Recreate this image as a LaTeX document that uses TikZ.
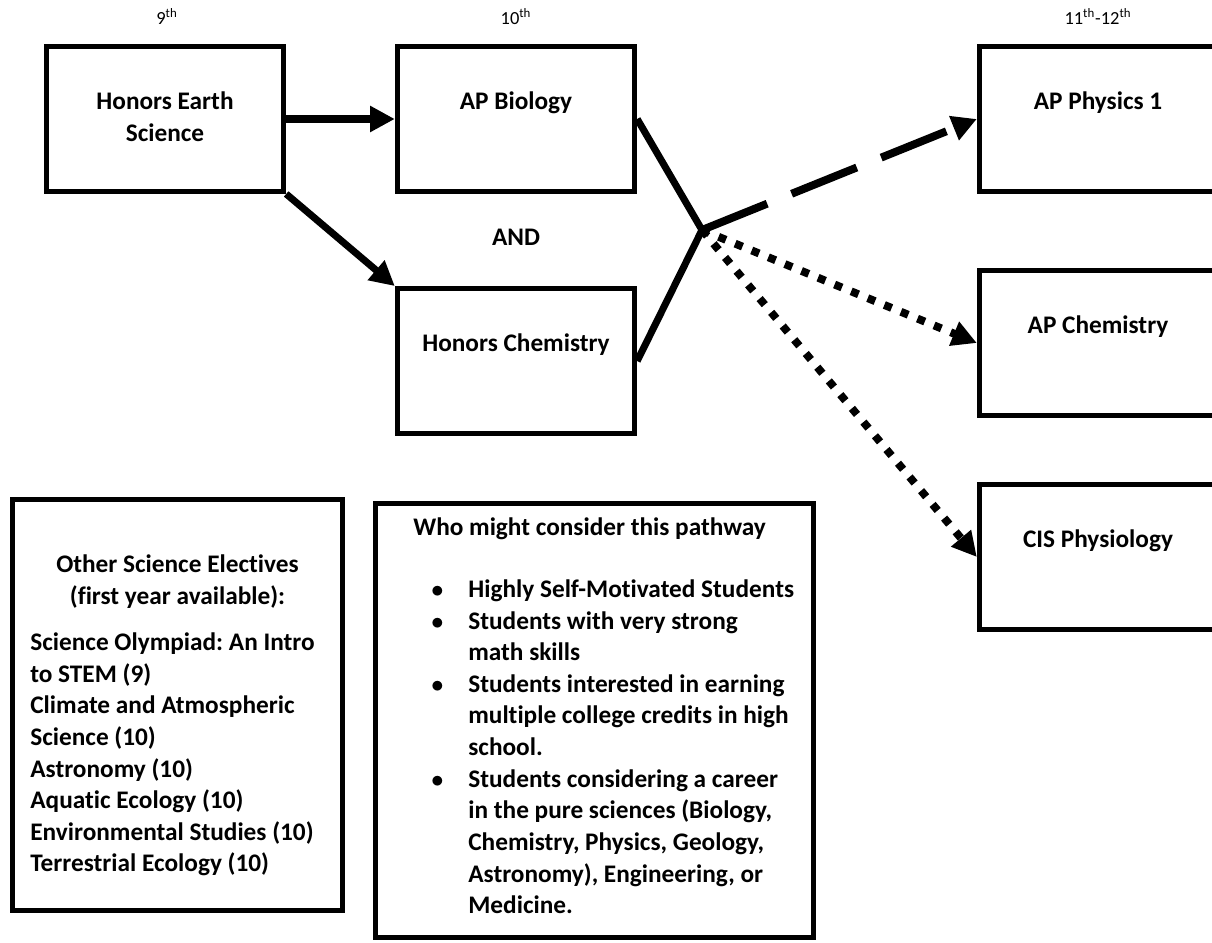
\documentclass[tikz,border=0pt]{standalone}
\usepackage{fontspec}
\setmainfont{Carlito}[Ligatures=NoCommon]
\usepackage{tikz}
\usetikzlibrary{arrows.meta}
\frenchspacing
\newcommand{\pathbullet}{\llap{$\bullet$\hspace{14pt}}}
\tikzset{
	coursenode/.style={rectangle, draw=black, line width=2.8pt, minimum width=4.75cm, minimum height=2.9cm, align=center, font=\fontsize{14.4}{18}\selectfont\bfseries},
	infobox/.style={rectangle, draw=black, line width=2.8pt},
	yearnode/.style={font=\fontsize{10.5}{12}\selectfont},
	listnode/.style={inner sep=0pt, font=\fontsize{14.4}{18}\selectfont\bfseries},
	mydashed/.style={dash pattern=on 40pt off 15pt},
	mydots/.style={dash pattern=on 4.5pt off 5.7pt}
}

\begin{document}
\begin{tikzpicture}[x=0.02cm, y=-0.02cm, >={Triangle[length=14pt,width=14pt]}]
	\useasboundingbox (0,0) rectangle (1212,942);

	\node[yearnode] at (167,17) (y9)    {9\textsuperscript{th}};
	\node[yearnode] at (516,17) (y10)   {10\textsuperscript{th}};
	\node[yearnode] at (1098,17) (y11)  {11\textsuperscript{th}-12\textsuperscript{th}};

	\node[coursenode] at (165,119) (earth)   {\strut Honors Earth\\Science\strut};
	\node[coursenode] at (516,119) (bio)     {\strut AP Biology\\\strut};
	\node[listnode] at (516,237) (and)       {AND};
	\node[coursenode] at (516,361) (chem)    {\strut Honors Chemistry\\\strut};
	\node[coursenode] at (1098,119) (phys)   {\strut AP Physics 1\\\strut};
	\node[coursenode] at (1098,343) (apchem) {\strut AP Chemistry\\\strut};
	\node[coursenode] at (1098,557) (cis)    {\strut CIS Physiology\\\strut};
	\coordinate (jn) at (702,230);

	%Lines
	\draw[->, line width=4pt] (earth) -- (bio);
	\draw[->, line width=4pt] (earth.south east) -- (chem.north west);
	\draw[line width=4pt] (bio.east) -- (jn) -- (chem.east);
	\draw[->, mydashed, line width=4.5pt] (jn) -- (phys.west);
	\draw[->, mydots, line width=4.5pt] (jn) -- (apchem.west);
	\draw[->, mydots, line width=4.5pt] (jn) -- (cis.west);

	%Bottom boxes
	\node[infobox, minimum width=6.6cm, minimum height=8.22cm] at (177.5,705) (elec) {};
	\node[listnode, anchor=north, align=center] at (177.5,550) (electitle) {\strut Other Science Electives\\(first year available):};
	\node[listnode, anchor=north west, align=left] at (30,628) (eleclist) {\strut Science Olympiad: An Intro\\to STEM (9)\\Climate and Atmospheric\\Science (10)\\Astronomy (10)\\Aquatic Ecology (10)\\Environmental Studies (10)\\Terrestrial Ecology (10)};

	\node[infobox, minimum width=8.76cm, minimum height=8.68cm] at (594.5,720.5) (who) {};
	\node[listnode, anchor=north west, align=left] at (413,513) (whotitle) {\strut Who might consider this pathway};
	\node[listnode, anchor=north west, align=left] at (468,575) (wholist) {\strut\pathbullet Highly Self-Motivated Students\\\pathbullet Students with very strong\\math skills\\\pathbullet Students interested in earning\\multiple college credits in high\\school.\\\pathbullet Students considering a career\\in the pure sciences (Biology,\\Chemistry, Physics, Geology,\\Astronomy), Engineering, or\\Medicine.};
\end{tikzpicture}
\end{document}
